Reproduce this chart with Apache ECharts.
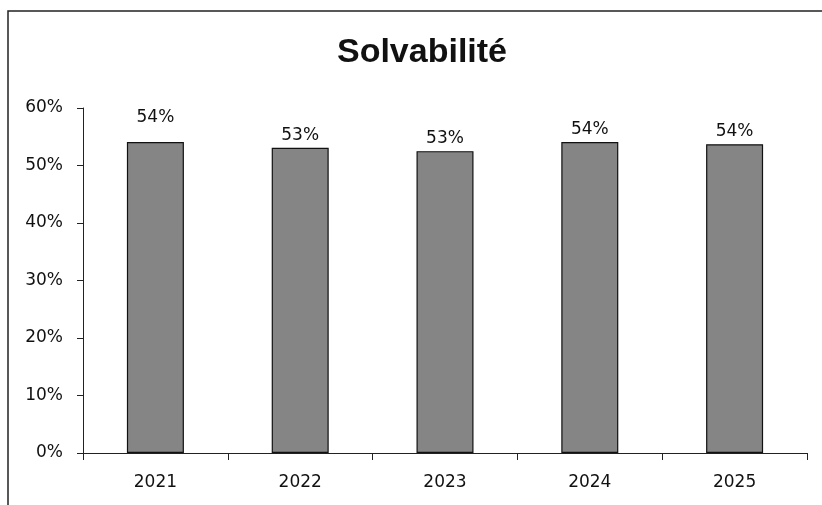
<!DOCTYPE html>
<html>
<head>
<meta charset="utf-8">
<script src="https://cdn.jsdelivr.net/npm/echarts@6/dist/echarts.min.js"></script>
<style>html,body{margin:0;padding:0;background:#fff}#c{width:822px;height:505px}</style>
</head>
<body>
<div id="c"></div>
<script>
const titleText = 'Solvabilité';
const categories = ['2021', '2022', '2023', '2024', '2025'];
const solvency = [54.1, 53.1, 52.5, 54.1, 53.7];
const yTicks = [0, 10, 20, 30, 40, 50, 60];

const chart = echarts.init(document.getElementById('c'), null, {renderer: 'canvas'});
const labelFont = 'DejaVu Sans';
chart.setOption({
  animation: false,
  backgroundColor: '#ffffff',
  title: {
    text: titleText,
    left: 417, top: 31, textAlign: 'center',
    textStyle: {fontFamily: 'Liberation Sans', fontWeight: 'bold', fontSize: 34, color: '#111'}
  },
  graphic: [{
    type: 'rect', shape: {x: 8, y: 11, width: 900, height: 600},
    style: {fill: 'none', stroke: '#222', lineWidth: 1.5}, silent: true
  }],
  grid: {left: 83, right: 15, top: 108, bottom: 52, containLabel: false},
  xAxis: {
    type: 'category', data: categories,
    axisLine: {lineStyle: {color: '#222', width: 1}},
    axisTick: {show: true, length: 7, lineStyle: {color: '#222'}},
    axisLabel: {fontFamily: labelFont, fontSize: 17, color: '#111', margin: 21}
  },
  yAxis: {
    type: 'value', min: yTicks[0], max: yTicks[yTicks.length - 1], interval: 10,
    axisLine: {show: true, lineStyle: {color: '#222', width: 1}},
    axisTick: {show: true, length: 6, lineStyle: {color: '#222'}},
    splitLine: {show: false},
    axisLabel: {fontFamily: labelFont, fontSize: 17, color: '#111', margin: 20, formatter: v => v + '%'}
  },
  series: [{
    type: 'bar',
    data: solvency.map((v, i) => i === 0 ? {value: v, label: {distance: 16}} : v),
    barWidth: 57,
    itemStyle: {color: '#858585', borderColor: '#111', borderWidth: 1.2},
    label: {
      show: true, position: 'top', distance: 4,
      fontFamily: labelFont, fontSize: 17, color: '#111',
      formatter: p => Math.round(p.value) + '%'
    }
  }]
});
</script>
</body>
</html>
